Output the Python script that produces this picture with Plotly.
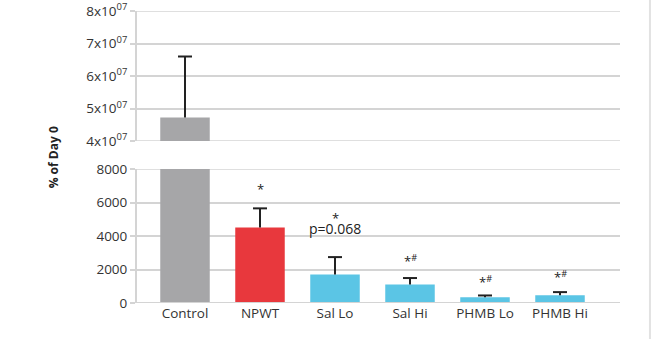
import plotly.graph_objects as go

categories = ["Control", "NPWT", "Sal Lo", "Sal Hi", "PHMB Lo", "PHMB Hi"]
means = [4.72e7, 4500, 1700, 1100, 350, 470]
errors_up = [1.88e7, 1150, 1040, 390, 100, 180]
colors = ["#a6a6a8", "#e8383d", "#5bc5e5", "#5bc5e5", "#5bc5e5", "#5bc5e5"]
sig_labels = ["", "*", "*", "*#", "*#", "*#"]
upper_ticks = [4e7, 5e7, 6e7, 7e7, 8e7]
upper_ticktext = ["4x10<sup>07</sup>", "5x10<sup>07</sup>", "6x10<sup>07</sup>",
                  "7x10<sup>07</sup>", "8x10<sup>07</sup>"]
lower_ticks = [0, 2000, 4000, 6000, 8000]
lower_ticktext = ["0", "2000", "4000", "6000", "8000"]

xs = list(range(len(categories)))
font = "Open Sans, Liberation Sans, sans-serif"
grid = "#d4d4d4"
tops = [m + e for m, e in zip(means, errors_up)]

fig = go.Figure()
for ax in ["y", "y2"]:
    fig.add_trace(go.Bar(
        x=xs, y=means, marker=dict(color=colors, line=dict(width=0)),
        width=0.66,
        error_y=dict(type="data", symmetric=False, array=errors_up,
                     arrayminus=[0] * len(means), color="#222222",
                     thickness=2, width=0),
        xaxis="x", yaxis=ax, showlegend=False, hoverinfo="skip"))
    fig.add_trace(go.Scatter(
        x=xs, y=tops, mode="markers", xaxis="x", yaxis=ax,
        marker=dict(symbol="line-ew", size=10,
                    line=dict(color="#222222", width=2)),
        showlegend=False, hoverinfo="skip", cliponaxis=True))

xr = [-0.64, 5.8]
yax_common = dict(showgrid=True, gridcolor=grid, gridwidth=1.5, zeroline=False,
                  showline=True, linecolor=grid, linewidth=2, ticks="outside",
                  ticklen=5, tickcolor=grid, tickwidth=1.5,
                  tickfont=dict(size=13.5), automargin=False,
                  ticklabeloverflow="allow")
fig.update_layout(
    width=657, height=339,
    margin=dict(l=137, r=37, t=11, b=36),
    paper_bgcolor="white", plot_bgcolor="white",
    font=dict(family=font, size=13, color="#333333"),
    xaxis=dict(range=xr, tickvals=xs, ticktext=categories, showgrid=False,
               showline=False, zeroline=False, ticks="", automargin=False,
               tickfont=dict(size=13.5, color="#333333"), anchor="y"),
    yaxis=dict(domain=[0, 0.4589], range=[0, 8000], tickvals=lower_ticks,
               ticktext=lower_ticktext, **yax_common),
    yaxis2=dict(domain=[0.5548, 1], range=[4e7, 8e7], tickvals=upper_ticks,
                ticktext=upper_ticktext, anchor="x", **yax_common),
)

# baseline
fig.add_shape(type="line", xref="paper", yref="y", x0=-0.01, x1=1.0,
              y0=0, y1=0, line=dict(color=grid, width=2))
# gridlines at range edges
fig.add_shape(type="line", xref="paper", yref="y", x0=-0.01, x1=1.0,
              y0=8000, y1=8000, line=dict(color=grid, width=1.5), layer="below")
fig.add_shape(type="line", xref="paper", yref="y2", x0=-0.01, x1=1.0,
              y0=8e7, y1=8e7, line=dict(color=grid, width=1.5), layer="below")
fig.add_shape(type="line", xref="paper", yref="y2", x0=-0.01, x1=1.0,
              y0=4e7, y1=4e7, line=dict(color=grid, width=1.5), layer="below")
# frame edge at right
fig.add_shape(type="line", xref="paper", yref="paper", x0=1.062, x1=1.062,
              y0=-0.2, y1=1.1, line=dict(color="#e2e2e2", width=2))

shifts = [0, 19, 39, 18, 14, 16]
for i, lab in enumerate(sig_labels):
    if not lab or i == 0:
        continue
    txt = lab if "#" not in lab else "*<sup>#</sup>"
    fig.add_annotation(x=i, y=tops[i], xref="x", yref="y",
                       text=txt, showarrow=False, yshift=shifts[i],
                       font=dict(size=13, color="#222222"))
fig.add_annotation(x=2, y=tops[2], xref="x", yref="y",
                   text="p=0.068", showarrow=False, yshift=29,
                   font=dict(size=14, color="#222222"))

fig.add_annotation(text="<b>% of Day 0</b>", xref="paper", yref="paper",
                   x=-0.195, y=0.5, textangle=-90, showarrow=False,
                   font=dict(size=12, color="#222222"))

fig.write_html("out.html", config={"displayModeBar": False},
               post_script="document.body.style.margin='0';")
